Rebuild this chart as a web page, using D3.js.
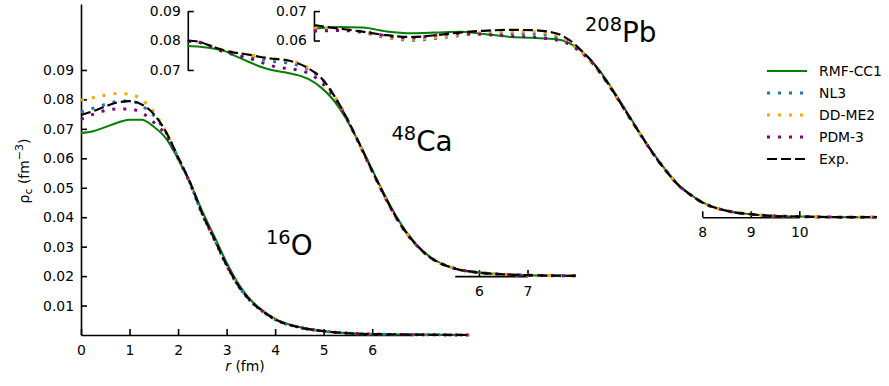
<!DOCTYPE html>
<html>
<head>
<meta charset="utf-8">
<script src="https://cdn.jsdelivr.net/npm/d3@7"></script>
<style>
body { margin: 0; background: #fff; }
svg { display: block; font-family: "DejaVu Sans", sans-serif; }
</style>
</head>
<body>
<svg id="chart" width="889" height="386"></svg>
<script>
// radial grids (fm)
const oR = [0, 0.25, 0.5, 0.75, 1, 1.25, 1.5, 1.75, 2, 2.25, 2.5, 2.75, 3, 3.25, 3.5, 3.75, 4, 4.5, 5, 5.5, 6, 7, 8];
const caR = [0, 0.25, 0.5, 0.75, 1, 1.25, 1.5, 1.75, 2, 2.25, 2.5, 2.75, 3, 3.25, 3.5, 3.75, 4, 4.25, 4.5, 4.75, 5, 5.5, 6, 7, 8];
const pbR = [0, 0.5, 1, 1.5, 2, 2.5, 3, 3.5, 4, 4.5, 5, 5.25, 5.5, 5.75, 6, 6.25, 6.5, 6.75, 7, 7.25, 7.5, 7.75, 8, 8.5, 9, 9.5, 10, 11, 11.6];

// 16O charge densities (fm^-3)
const oRmf   = [0.0686, 0.0692, 0.0706, 0.0721, 0.0731, 0.0731, 0.0707, 0.0668, 0.0598, 0.0516, 0.0420, 0.0334, 0.0246, 0.0172, 0.0118, 0.0082, 0.0055, 0.0027, 0.0013, 0.0006, 0.0003, 0.0001, 0.0000];
const oNl3   = [0.0757, 0.0770, 0.0783, 0.0793, 0.0795, 0.0778, 0.0745, 0.0688, 0.0603, 0.0515, 0.0410, 0.0324, 0.0236, 0.0165, 0.0114, 0.0079, 0.0052, 0.0026, 0.0013, 0.0006, 0.0003, 0.0001, 0.0000];
const oDdme2 = [0.0798, 0.0806, 0.0814, 0.0820, 0.0818, 0.0799, 0.0758, 0.0690, 0.0602, 0.0514, 0.0409, 0.0323, 0.0235, 0.0164, 0.0114, 0.0079, 0.0052, 0.0026, 0.0013, 0.0006, 0.0003, 0.0001, 0.0000];
const oPdm3  = [0.0732, 0.0749, 0.0762, 0.0768, 0.0767, 0.0755, 0.0722, 0.0678, 0.0600, 0.0514, 0.0410, 0.0325, 0.0237, 0.0165, 0.0115, 0.0080, 0.0053, 0.0026, 0.0013, 0.0006, 0.0003, 0.0001, 0.0000];
const oExp   = [0.0747, 0.0760, 0.0776, 0.0790, 0.0794, 0.0783, 0.0750, 0.0690, 0.0604, 0.0517, 0.0412, 0.0325, 0.0238, 0.0166, 0.0115, 0.0080, 0.0053, 0.0026, 0.0013, 0.0006, 0.0003, 0.0001, 0.0000];

// 48Ca
const caRmf   = [0.0781, 0.0779, 0.0774, 0.0765, 0.0746, 0.0728, 0.0711, 0.0699, 0.0692, 0.0683, 0.0668, 0.0640, 0.0598, 0.0538, 0.0462, 0.0378, 0.0294, 0.0216, 0.0151, 0.0101, 0.0064, 0.0026, 0.0012, 0.0003, 0.0001];
const caNl3   = [0.0798, 0.0793, 0.0779, 0.0764, 0.0753, 0.0746, 0.0737, 0.0729, 0.0725, 0.0717, 0.0700, 0.0670, 0.0616, 0.0544, 0.0461, 0.0374, 0.0289, 0.0211, 0.0147, 0.0098, 0.0063, 0.0026, 0.0012, 0.0003, 0.0001];
const caDdme2 = [0.0797, 0.0795, 0.0781, 0.0767, 0.0758, 0.0752, 0.0745, 0.0739, 0.0734, 0.0725, 0.0705, 0.0674, 0.0617, 0.0544, 0.0460, 0.0373, 0.0288, 0.0210, 0.0146, 0.0098, 0.0062, 0.0026, 0.0012, 0.0003, 0.0001];
const caPdm3  = [0.0797, 0.0793, 0.0778, 0.0761, 0.0750, 0.0740, 0.0727, 0.0713, 0.0706, 0.0700, 0.0688, 0.0658, 0.0611, 0.0542, 0.0460, 0.0374, 0.0289, 0.0211, 0.0147, 0.0098, 0.0063, 0.0026, 0.0012, 0.0003, 0.0001];
const caExp   = [0.0800, 0.0795, 0.0780, 0.0766, 0.0758, 0.0752, 0.0744, 0.0738, 0.0734, 0.0724, 0.0704, 0.0673, 0.0617, 0.0545, 0.0462, 0.0375, 0.0290, 0.0212, 0.0148, 0.0099, 0.0063, 0.0026, 0.0012, 0.0003, 0.0001];

// 208Pb
const pbRmf   = [0.0640, 0.0646, 0.0644, 0.0631, 0.0625, 0.0627, 0.0630, 0.0622, 0.0613, 0.0609, 0.0604, 0.0592, 0.0565, 0.0526, 0.0472, 0.0409, 0.0343, 0.0277, 0.0215, 0.0160, 0.0112, 0.0078, 0.0051, 0.0022, 0.0010, 0.0004, 0.0002, 0.0000, 0.0000];
const pbNl3   = [0.0640, 0.0638, 0.0627, 0.0610, 0.0601, 0.0607, 0.0617, 0.0623, 0.0624, 0.0622, 0.0612, 0.0594, 0.0562, 0.0520, 0.0466, 0.0404, 0.0339, 0.0274, 0.0212, 0.0158, 0.0110, 0.0077, 0.0050, 0.0022, 0.0010, 0.0004, 0.0002, 0.0000, 0.0000];
const pbDdme2 = [0.0642, 0.0640, 0.0629, 0.0612, 0.0604, 0.0610, 0.0620, 0.0627, 0.0630, 0.0630, 0.0618, 0.0597, 0.0564, 0.0521, 0.0467, 0.0404, 0.0339, 0.0274, 0.0212, 0.0158, 0.0110, 0.0077, 0.0050, 0.0022, 0.0010, 0.0004, 0.0002, 0.0000, 0.0000];
const pbPdm3  = [0.0632, 0.0634, 0.0630, 0.0616, 0.0609, 0.0618, 0.0624, 0.0621, 0.0615, 0.0611, 0.0602, 0.0588, 0.0560, 0.0521, 0.0468, 0.0405, 0.0340, 0.0275, 0.0213, 0.0159, 0.0111, 0.0077, 0.0050, 0.0022, 0.0010, 0.0004, 0.0002, 0.0000, 0.0000];
const pbExp   = [0.0652, 0.0641, 0.0630, 0.0618, 0.0612, 0.0618, 0.0627, 0.0633, 0.0636, 0.0635, 0.0624, 0.0603, 0.0568, 0.0524, 0.0468, 0.0405, 0.0340, 0.0275, 0.0213, 0.0158, 0.0110, 0.0077, 0.0050, 0.0022, 0.0010, 0.0004, 0.0002, 0.0000, 0.0000];

const seriesNames = ["RMF-CC1", "NL3", "DD-ME2", "PDM-3", "Exp."];

// tick labels
const mainXTicks = [0, 1, 2, 3, 4, 5, 6];
const mainYTicks = [0.01, 0.02, 0.03, 0.04, 0.05, 0.06, 0.07, 0.08, 0.09];
const caXTicks = [6, 7];
const caYTicks = [0.07, 0.08, 0.09];
const pbXTicks = [8, 9, 10];
const pbYTicks = [0.06, 0.07];

// styles / layout
const STYLE = {
    "RMF-CC1": { color: "#008000", width: 2, dash: null },
    "NL3":     { color: "#1f77b4", width: 3, dash: "3 8" },
    "DD-ME2":  { color: "#ffa500", width: 3, dash: "3 8" },
    "PDM-3":   { color: "#800080", width: 3, dash: "3 8" },
    "Exp.":    { color: "#000000", width: 2.2, dash: "10 4" }
};
const FONT = 13.9;

const svg = d3.select("#chart");

const x = d3.scaleLinear().domain([0, 6.82]).range([81, 412]);
const y = d3.scaleLinear().domain([0, 0.1124]).range([335, 4]);

const nuclei = [
    { r: oR,  data: [oRmf, oNl3, oDdme2, oPdm3, oExp],      dx: 0,   dy: 0 },
    { r: caR, data: [caRmf, caNl3, caDdme2, caPdm3, caExp], dx: 2.2, dy: 0.02 },
    { r: pbR, data: [pbRmf, pbNl3, pbDdme2, pbPdm3, pbExp], dx: 4.8, dy: 0.04 }
];

function styleAxis(g) {
    g.attr("font-size", FONT).attr("font-family", "DejaVu Sans, sans-serif");
    g.selectAll("path, line").attr("stroke-width", 1.6);
}

// main axes
svg.append("g")
    .attr("transform", "translate(0," + y(0) + ")")
    .call(d3.axisBottom(x).tickValues(mainXTicks).tickSize(-6).tickSizeOuter(0)
        .tickPadding(10).tickFormat(d3.format("d")))
    .call(styleAxis);

svg.append("g")
    .attr("transform", "translate(" + x(0) + ",0)")
    .call(d3.axisLeft(y).tickValues(mainYTicks).tickSize(-6).tickSizeOuter(0)
        .tickPadding(7).tickFormat(d3.format(".2f")))
    .call(styleAxis);

// Ca inset axes
var caX = d3.scaleLinear().domain([5.5, 7]).range([x(5.5 + 2.2), x(7 + 2.2)]);
var caY = d3.scaleLinear().domain([0.07, 0.09]).range([y(0.07 + 0.02), y(0.09 + 0.02)]);
svg.append("g")
    .attr("transform", "translate(0," + y(0.02) + ")")
    .call(d3.axisBottom(caX).tickValues(caXTicks).tickSize(-6).tickSizeOuter(0)
        .tickPadding(10).tickFormat(d3.format("d")))
    .call(styleAxis);
svg.append("g")
    .attr("transform", "translate(" + x(2.2) + ",0)")
    .call(d3.axisLeft(caY).tickValues(caYTicks).tickSize(-6).tickSizeOuter(0)
        .tickPadding(7).tickFormat(d3.format(".2f")))
    .call(styleAxis);

// Pb inset axes
var pbX = d3.scaleLinear().domain([8, 10]).range([x(8 + 4.8), x(10 + 4.8)]);
var pbY = d3.scaleLinear().domain([0.06, 0.07]).range([y(0.06 + 0.04), y(0.07 + 0.04)]);
svg.append("g")
    .attr("transform", "translate(0," + y(0.04) + ")")
    .call(d3.axisBottom(pbX).tickValues(pbXTicks).tickSize(-6).tickSizeOuter(0)
        .tickPadding(10).tickFormat(d3.format("d")))
    .call(styleAxis);
svg.append("g")
    .attr("transform", "translate(" + x(4.8) + ",0)")
    .call(d3.axisLeft(pbY).tickValues(pbYTicks).tickSize(-6).tickSizeOuter(0)
        .tickPadding(7).tickFormat(d3.format(".2f")))
    .call(styleAxis);

// curves
nuclei.forEach(function (nuc) {
    var line = d3.line()
        .x(function (d, i) { return x(nuc.r[i] + nuc.dx); })
        .y(function (d) { return y(d + nuc.dy); })
        .curve(d3.curveMonotoneX);
    nuc.data.forEach(function (vals, k) {
        var st = STYLE[seriesNames[k]];
        svg.append("path")
            .datum(vals)
            .attr("d", line)
            .attr("fill", "none")
            .attr("stroke", st.color)
            .attr("stroke-width", st.width)
            .attr("stroke-dasharray", st.dash)
            .attr("stroke-linecap", "butt");
    });
});

// nucleus labels
function nucLabel(px, py, mass, sym) {
    var t = svg.append("text").attr("x", px).attr("y", py).attr("fill", "#000");
    t.append("tspan").attr("font-size", 19.4).attr("dy", -11).text(mass);
    t.append("tspan").attr("font-size", 27.8).attr("dy", 11).text(sym);
}
nucLabel(266, 255, "16", "O");
nucLabel(391.5, 151, "48", "Ca");
nucLabel(585, 41.5, "208", "Pb");

// axis titles
var yl = svg.append("text")
    .attr("transform", "translate(29,171) rotate(-90)")
    .attr("text-anchor", "middle")
    .attr("font-size", FONT);
yl.append("tspan").text("ρ");
yl.append("tspan").attr("font-size", 11).attr("dy", 3).text("c");
yl.append("tspan").attr("dy", -3).text(" (fm");
yl.append("tspan").attr("font-size", 11).attr("dy", -6).text("−3");
yl.append("tspan").attr("dy", 6).text(")");

var xl = svg.append("text")
    .attr("x", 245).attr("y", 371)
    .attr("text-anchor", "middle")
    .attr("font-size", FONT);
xl.append("tspan").attr("font-style", "italic").text("r");
xl.append("tspan").text(" (fm)");

// legend
var leg = svg.append("g").attr("transform", "translate(767,71)");
seriesNames.forEach(function (name, i) {
    var st = STYLE[name];
    var row = leg.append("g").attr("transform", "translate(0," + (i * 22) + ")");
    row.append("line")
        .attr("x1", 0).attr("x2", 40).attr("y1", 0).attr("y2", 0)
        .attr("stroke", st.color)
        .attr("stroke-width", st.width)
        .attr("stroke-dasharray", st.dash);
    row.append("text")
        .attr("x", 52).attr("y", 5)
        .attr("font-size", FONT)
        .text(name);
});
</script>
</body>
</html>
